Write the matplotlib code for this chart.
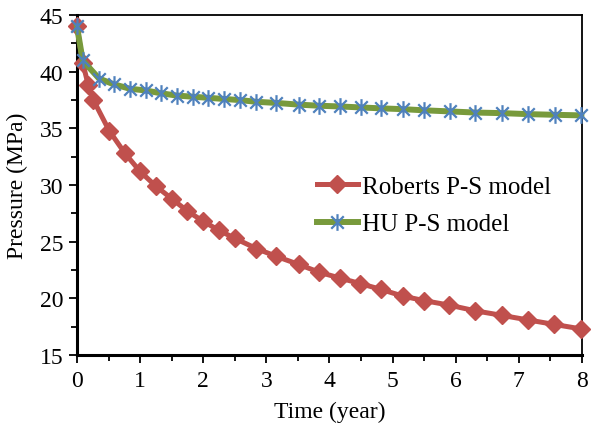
import matplotlib
matplotlib.use('Agg')
import matplotlib.pyplot as plt
from matplotlib.path import Path
from matplotlib.ticker import MultipleLocator

plt.rcParams['font.family'] = ['Liberation Serif', 'DejaVu Serif']

# Roberts P-S model
t_rob = [0, 0.09, 0.18, 0.26, 0.51, 0.76, 1.0, 1.25, 1.5, 1.75, 2.0, 2.25, 2.5,
         2.84, 3.16, 3.51, 3.84, 4.16, 4.49, 4.81, 5.16, 5.5, 5.9, 6.31, 6.73,
         7.14, 7.56, 7.99]
p_rob = [44.0, 40.8, 38.8, 37.5, 34.8, 32.8, 31.2, 29.9, 28.8, 27.7, 26.8, 26.0, 25.3,
         24.4, 23.7, 23.0, 22.3, 21.8, 21.3, 20.8, 20.2, 19.8, 19.4, 18.9, 18.5,
         18.1, 17.7, 17.3]

# HU P-S model
t_hu = [0, 0.09, 0.35, 0.58, 0.84, 1.09, 1.33, 1.58, 1.83, 2.08, 2.33, 2.58,
        2.84, 3.16, 3.51, 3.84, 4.16, 4.5, 4.82, 5.16, 5.49, 5.91, 6.31, 6.73,
        7.15, 7.58, 7.99]
p_hu = [44.0, 41.0, 39.4, 38.9, 38.5, 38.35, 38.1, 37.9, 37.8, 37.7, 37.6, 37.5,
        37.35, 37.25, 37.1, 37.0, 36.94, 36.85, 36.77, 36.7, 36.6, 36.5, 36.4, 36.35,
        36.26, 36.2, 36.15]

# star marker like excel (vertical + x)
star = Path([(0, -1), (0, 1), (-0.75, -0.75), (0.75, 0.75), (-0.75, 0.75), (0.75, -0.75)],
            [Path.MOVETO, Path.LINETO, Path.MOVETO, Path.LINETO, Path.MOVETO, Path.LINETO])

fig = plt.figure(figsize=(5.94, 4.31), dpi=100)
ax = fig.add_axes([0.1296, 0.174, 0.8502, 0.7886])

ax.plot(t_rob, p_rob, color='#C0504D', lw=3.6, marker='D', ms=9.5,
        mfc='#C0504D', mec='#C0504D', label='Roberts P-S model', clip_on=False, zorder=3)
ax.plot(t_hu, p_hu, color='#789A3C', lw=4.3, marker=star, ms=12,
        mew=1.6, mec='#4F81BD', label='HU P-S model', clip_on=False, zorder=4)

ax.set_xlim(0, 8)
ax.set_ylim(15, 45)
ax.xaxis.set_major_locator(MultipleLocator(1))
ax.xaxis.set_minor_locator(MultipleLocator(0.5))
ax.yaxis.set_major_locator(MultipleLocator(5))
ax.yaxis.set_minor_locator(MultipleLocator(2.5))
ax.tick_params(which='both', direction='out', width=1.3, labelsize=17, colors='black')
ax.tick_params(which='major', length=6)
ax.tick_params(which='minor', length=4)
ax.tick_params(axis='y', pad=4)
ax.tick_params(axis='x', pad=5)
for s in ax.spines.values():
    s.set_linewidth(1.3)
ax.spines['left'].set_linewidth(2.2)
ax.spines['bottom'].set_linewidth(2.2)

ax.set_xlabel('Time (year)', fontsize=17, labelpad=7)
ax.set_ylabel('Pressure (MPa)', fontsize=17, labelpad=8)

ax.legend(loc='upper left', bbox_to_anchor=(0.45, 0.565), frameon=False, fontsize=18,
          handlelength=1.65, handletextpad=0.15, labelspacing=0.6, borderpad=0)

fig.savefig('out.png', dpi=100)
